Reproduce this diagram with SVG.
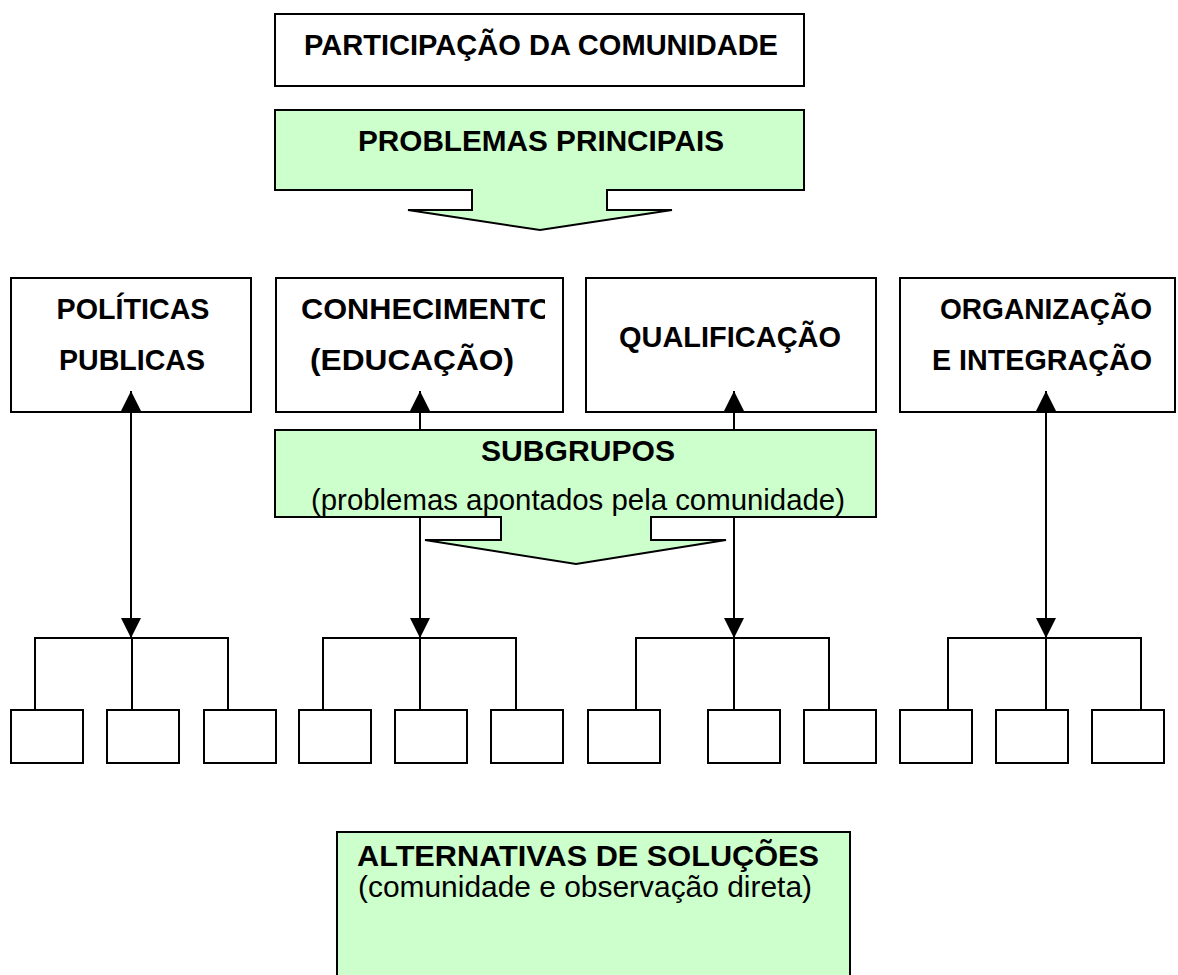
<svg xmlns="http://www.w3.org/2000/svg" width="1178" height="975" viewBox="0 0 1178 975">
<defs>
<style>
.box{fill:#ffffff;stroke:#000;stroke-width:2}
.green{fill:#ccffcc;stroke:#000;stroke-width:2}
.b{font-family:"Liberation Sans",Arial,sans-serif;font-weight:bold;font-size:30px;fill:#000;text-anchor:middle}
.r{font-family:"Liberation Sans",Arial,sans-serif;font-size:30px;fill:#000;text-anchor:middle}
.ln{fill:none;stroke:#000;stroke-width:2}
</style>
<marker id="ah" viewBox="0 0 20 21" refX="20" refY="10" markerWidth="20" markerHeight="21" markerUnits="userSpaceOnUse" orient="auto-start-reverse">
<path d="M0,0 L20,10 L0,20 Z" fill="#000"/>
</marker>
<clipPath id="clipCon"><rect x="277" y="279" width="268" height="132"/></clipPath>
</defs>
<rect width="1178" height="975" fill="#fff"/>

<g id="participacao">
<rect class="box" x="275" y="14" width="529" height="72"/>
<text class="b" x="541" y="55" textLength="474" lengthAdjust="spacingAndGlyphs">PARTICIPAÇÃO DA COMUNIDADE</text>
</g>

<g id="problemas">
<path class="green" d="M275,110 L804,110 L804,190 L607,190 L607,210 L672,210 L540,230 L408,210 L472,210 L472,190 L275,190 Z"/>
<text class="b" x="541" y="151" textLength="366" lengthAdjust="spacingAndGlyphs">PROBLEMAS PRINCIPAIS</text>
</g>

<g id="politicas">
<rect class="box" x="11" y="278" width="240" height="134"/>
<text class="b" x="133" y="319" textLength="153" lengthAdjust="spacingAndGlyphs">POLÍTICAS</text>
<text class="b" x="132" y="370" textLength="146" lengthAdjust="spacingAndGlyphs">PUBLICAS</text>
</g>

<g id="conhecimento">
<rect class="box" x="276" y="278" width="287" height="134"/>
<g clip-path="url(#clipCon)">
<text class="b" x="301" y="319" style="text-anchor:start" textLength="252" lengthAdjust="spacingAndGlyphs">CONHECIMENTO</text>
</g>
<text class="b" x="412" y="370" textLength="204" lengthAdjust="spacingAndGlyphs">(EDUCAÇÃO)</text>
</g>

<g id="qualificacao">
<rect class="box" x="586" y="278" width="290" height="134"/>
<text class="b" x="730" y="347" textLength="222" lengthAdjust="spacingAndGlyphs">QUALIFICAÇÃO</text>
</g>

<g id="organizacao">
<rect class="box" x="900" y="278" width="275" height="134"/>
<text class="b" x="1046" y="319" textLength="212" lengthAdjust="spacingAndGlyphs">ORGANIZAÇÃO</text>
<text class="b" x="1042" y="370" textLength="220" lengthAdjust="spacingAndGlyphs">E INTEGRAÇÃO</text>
</g>

<g id="subgrupos">
<path class="green" d="M275,430 L876,430 L876,517 L651,517 L651,540 L726,540 L576,564 L425,540 L501,540 L501,517 L275,517 Z"/>
<text class="b" x="578" y="461" textLength="194" lengthAdjust="spacingAndGlyphs">SUBGRUPOS</text>
<text class="r" x="578" y="510" textLength="534" lengthAdjust="spacingAndGlyphs">(problemas apontados pela comunidade)</text>
</g>

<g id="alternativas">
<rect class="green" x="337" y="832" width="513" height="160"/>
<text class="b" x="588" y="866" textLength="462" lengthAdjust="spacingAndGlyphs">ALTERNATIVAS DE SOLUÇÕES</text>
<text class="r" x="585" y="897" textLength="454" lengthAdjust="spacingAndGlyphs">(comunidade e observação direta)</text>
</g>

<g id="leaves">
<rect class="box" x="11" y="710" width="72" height="53"/>
<rect class="box" x="107" y="710" width="72" height="53"/>
<rect class="box" x="204" y="710" width="72" height="53"/>
<rect class="box" x="299" y="710" width="72" height="53"/>
<rect class="box" x="395" y="710" width="72" height="53"/>
<rect class="box" x="491" y="710" width="72" height="53"/>
<rect class="box" x="588" y="710" width="72" height="53"/>
<rect class="box" x="708" y="710" width="72" height="53"/>
<rect class="box" x="804" y="710" width="72" height="53"/>
<rect class="box" x="900" y="710" width="72" height="53"/>
<rect class="box" x="996" y="710" width="72" height="53"/>
<rect class="box" x="1092" y="710" width="72" height="53"/>
</g>

<g id="connectors">
<path class="ln" d="M131,638 L131,391" marker-start="url(#ah)" marker-end="url(#ah)"/>
<path class="ln" d="M1046,638 L1046,391" marker-start="url(#ah)" marker-end="url(#ah)"/>
<path class="ln" d="M420,430 L420,391" marker-end="url(#ah)"/>
<path class="ln" d="M734,430 L734,391" marker-end="url(#ah)"/>
<path class="ln" d="M420,517 L420,638" marker-end="url(#ah)"/>
<path class="ln" d="M734,517 L734,638" marker-end="url(#ah)"/>
<path class="ln" d="M35,710 L35,638 L228,638 L228,710 M132,638 L132,710"/>
<path class="ln" d="M323,710 L323,638 L516,638 L516,710 M420,638 L420,710"/>
<path class="ln" d="M636,710 L636,638 L829,638 L829,710 M734,638 L734,710"/>
<path class="ln" d="M948,710 L948,638 L1141,638 L1141,710 M1046,638 L1046,710"/>
</g>
</svg>
